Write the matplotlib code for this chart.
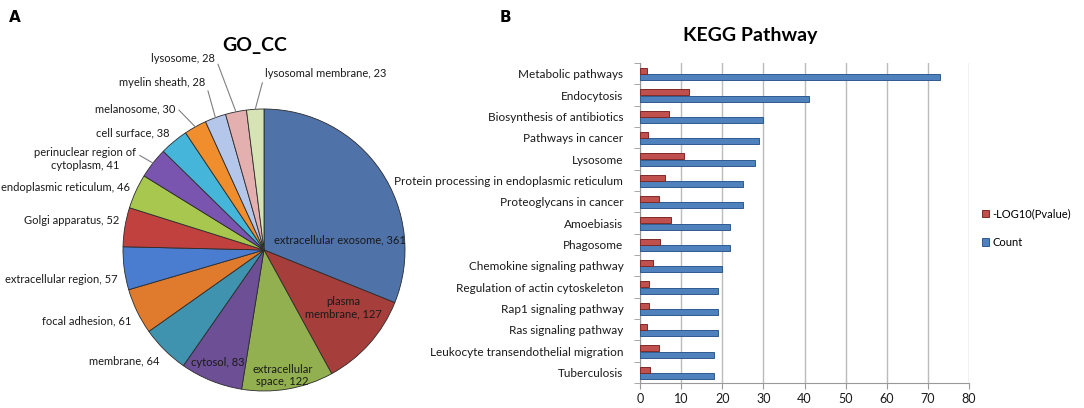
import numpy as np
import matplotlib
matplotlib.use("Agg")
import matplotlib.pyplot as plt

plt.rcParams['font.family'] = ['Lato', 'DejaVu Sans']

# GO cellular component counts (pie, clockwise from 12 o'clock)
cc_names = ["extracellular exosome", "plasma\nmembrane", "extracellular\nspace", "cytosol",
            "membrane", "focal adhesion", "extracellular region", "Golgi apparatus",
            "endoplasmic reticulum", "perinuclear region of\ncytoplasm", "cell surface",
            "melanosome", "myelin sheath", "lysosome", "lysosomal membrane"]
cc_counts = [361, 127, 122, 83, 64, 61, 57, 52, 46, 41, 38, 30, 28, 28, 23]
cc_colors = ["#4F72A8", "#A63E3B", "#93B050", "#6C4F95", "#3F93AE", "#E07B2E", "#4A7CD0",
             "#C0413D", "#A8C74F", "#7A55B0", "#45B5DA", "#F08E2E", "#B4C6E9", "#E3AFAF",
             "#D6E3B5"]

# KEGG pathways
kegg_terms = ["Metabolic pathways", "Endocytosis", "Biosynthesis of antibiotics",
              "Pathways in cancer", "Lysosome", "Protein processing in endoplasmic reticulum",
              "Proteoglycans in cancer", "Amoebiasis", "Phagosome", "Chemokine signaling pathway",
              "Regulation of actin cytoskeleton", "Rap1 signaling pathway",
              "Ras signaling pathway", "Leukocyte transendothelial migration", "Tuberculosis"]
kegg_count = [73, 41, 30, 29, 28, 25, 25, 22, 22, 20, 19, 19, 19, 18, 18]
kegg_logp = [1.7, 12.0, 7.1, 1.9, 10.8, 6.1, 4.7, 7.6, 4.9, 3.1, 2.1, 2.1, 1.8, 4.7, 2.4]

W, H = 1084, 408
fig = plt.figure(figsize=(W / 100, H / 100), dpi=100)
fig.patch.set_facecolor("white")

# ---------------- panel A: pie ----------------
cx, cy, r = 264, 250, 141
axp = fig.add_axes([(cx - r) / W, (H - cy - r) / H, 2 * r / W, 2 * r / H])

wedges, _ = axp.pie(cc_counts, colors=cc_colors, startangle=90, counterclock=False,
                    radius=1.0, wedgeprops=dict(edgecolor="#2b2b2b", linewidth=0.6))
axp.set_xlim(-1, 1)
axp.set_ylim(-1, 1)
axp.set_aspect("auto")
axp.axis("off")

# label layout: (x, y, ha, leader line?) in pie units
inside_xy = [(0.54, 0.07), (0.56, -0.41), (0.13, -0.89), (-0.33, -0.80)]
outside_xy = [(-0.74, -0.79, "right", False), (-0.94, -0.50, "right", False),
              (-1.04, -0.21, "right", False), (-1.03, 0.21, "right", False),
              (-0.95, 0.44, "right", False), (-0.91, 0.645, "right", True),
              (-0.67, 0.83, "right", False), (-0.63, 1.00, "right", True),
              (-0.42, 1.19, "right", True), (-0.35, 1.36, "right", True),
              (0.007, 1.255, "left", True)]
pie_fs = 8

for i, w in enumerate(wedges):
    label = f"{cc_names[i]}, {cc_counts[i]}"
    if i < len(inside_xy):
        axp.text(inside_xy[i][0], inside_xy[i][1], label, ha="center", va="center",
                 fontsize=pie_fs, color="#1a1a1a", multialignment="center")
        continue
    tx, ty, ha, leader = outside_xy[i - len(inside_xy)]
    mid = np.deg2rad((w.theta1 + w.theta2) / 2)
    ex, ey = np.cos(mid), np.sin(mid)
    if leader:
        axp.annotate(label, xy=(ex, ey), xytext=(tx, ty), ha=ha, va="center",
                     fontsize=pie_fs, color="#1a1a1a", multialignment="center",
                     annotation_clip=False,
                     arrowprops=dict(arrowstyle="-", color="#808080", lw=0.8,
                                     shrinkA=1, shrinkB=0,
                                     relpos=(1, 0.75) if ha == "right" else (0, 0.5)))
    else:
        axp.text(tx, ty, label, ha=ha, va="center", fontsize=pie_fs, color="#1a1a1a",
                 multialignment="center")

fig.text(255 / W, 1 - 45 / H, "GO_CC", ha="center", va="center", fontsize=14,
         fontweight="bold")
fig.text(15 / W, 1 - 18 / H, "A", ha="center", va="center", fontsize=11,
         fontweight="bold", family="DejaVu Sans")

# ---------------- panel B: KEGG bars ----------------
axb = fig.add_axes([640 / W, (H - 383) / H, 329 / W, 320 / H])
y = np.arange(len(kegg_terms))
hb = axb.barh(y + 0.17, kegg_count, height=0.28, color="#4F81BD", edgecolor="#2F5A8F",
              linewidth=0.7, label="Count", zorder=3)
hr = axb.barh(y - 0.12, kegg_logp, height=0.28, color="#C0504D", edgecolor="#7E2A28",
              linewidth=0.7, label="-LOG10(Pvalue)", zorder=3)
axb.set_ylim(len(kegg_terms) - 0.5, -0.5)
axb.set_xlim(0, 80)
axb.set_xticks(np.arange(0, 81, 10))
axb.set_yticks(y)
axb.set_yticklabels(kegg_terms, fontsize=8.5, color="#1a1a1a")
axb.set_yticks(np.arange(-0.5, len(kegg_terms)), minor=True)
axb.tick_params(axis="y", which="major", length=0, pad=12)
axb.tick_params(axis="y", which="minor", length=4, color="#999999")
axb.tick_params(axis="x", length=4, color="#999999", labelsize=9, labelcolor="#1a1a1a")
axb.grid(axis="x", color="#BBBBBB", linewidth=1, zorder=0)
for s in ["top", "right"]:
    axb.spines[s].set_visible(False)
for s in ["left", "bottom"]:
    axb.spines[s].set_color("#999999")

fig.text(750 / W, 1 - 35 / H, "KEGG Pathway", ha="center", va="center", fontsize=14,
         fontweight="bold")
fig.text(505 / W, 1 - 18 / H, "B", ha="center", va="center", fontsize=11,
         fontweight="bold", family="DejaVu Sans")

fig.legend([hr, hb], ["-LOG10(Pvalue)", "Count"], loc="center left",
           bbox_to_anchor=(982 / W, 1 - 228 / H), frameon=False, fontsize=8,
           handlelength=0.6, handleheight=0.6, handletextpad=0.3, labelspacing=1.6,
           borderaxespad=0, borderpad=0)

fig.savefig("out.png", dpi=100, facecolor="white")
